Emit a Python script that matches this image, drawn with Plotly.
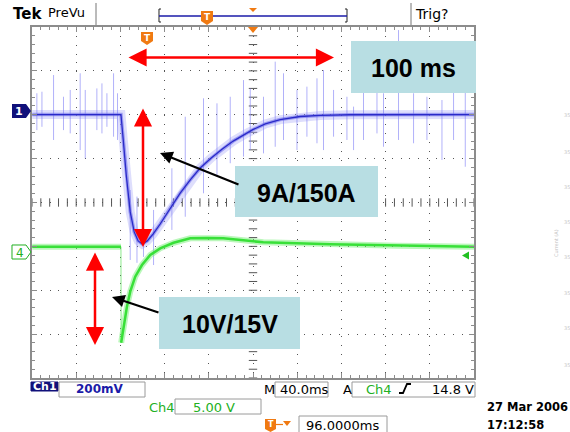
import plotly.graph_objects as go
import numpy as np

# ---------------- data ----------------
# Ch1: current probe, mV, time in ms relative to trigger
ch1_t = [-103.8, -23.5, -21.4, -18.7, -15.1, -11.5, -7.9, -4.3, 0.3, 5.7,
         12.0, 21.1, 30.1, 39.2, 48.2, 58.2, 68.2, 78.1, 89.0, 96.2,
         107.1, 120.6, 138.7, 156.8, 184.0, 296.2]
ch1_mv = [-16, -16, -132, -292, -460, -551, -592, -606, -592, -560,
          -515, -442, -374, -314, -260, -214, -173, -137, -105, -84,
          -59, -39, -25, -20, -17, -16]

# Ch1 noise spikes: time, upper end, lower end (mV)
spike_t = [-99.6, -95.0, -84.5, -75.5, -69.4, -60.4, -55.8, -45.3, -40.7, -36.2, -30.2, -26.6,
           -15.1, -9.0, -3.1, 6.0, 22.6, 34.7, 51.2, 63.4, 75.4, 87.4, 93.5, 105.5,
           116.1, 123.6, 135.8, 144.8, 153.9, 159.8, 168.9, 181.0, 187.0, 196.0,
           208.2, 214.1, 227.7, 241.3, 253.4, 267.0, 277.5, 288.1]
spike_hi = [81, 88, 164, 65, 96, 172, 96, 103, 126, 81, 172, 81,
            -360, -390, -530, -451, -261, -26, 58, 35, 65, 141, 103, 65,
            225, 172, 96, 111, 149, 187, 96, 65, 20, 149,
            141, 81, 369, 81, 65, 50, 141, 126]
spike_lo = [-87, -72, -132, -87, -102, -178, -216, -87, -102, -72, -117, -132,
            -679, -692, -665, -702, -542, -482, -375, -299, -238, -208, -178, -193,
            -163, -132, -178, -117, -147, -178, -117, -132, -178, -132,
            -102, -163, -132, -147, -132, -223, -132, -254]

# Ch4: voltage, V
ch4_t = [-103.8, -23.5, -23.3, -21.2, -18.1, -15.1, -10.6, -4.5, 3.0, 12.0,
         24.1, 39.2, 54.3, 69.1, 105.3, 165.9, 226.3, 296.2]
ch4_v = [15.75, 15.75, 4.81, 6.63, 8.91, 10.62, 12.33, 13.66, 14.80, 15.56,
         16.20, 16.70, 16.75, 16.70, 16.25, 16.03, 15.87, 15.75]

# scope settings
CH1_SCALE = 200.0   # mV/div
CH4_SCALE = 5.0     # V/div
TRIG_LEVEL = 14.8   # V
CH1_POS = 2.085     # div
TRIG_POS = -1.197   # div
T_PER_DIV = 40.0    # ms/div
T_CENTER = 96.0     # ms

y1 = [v / CH1_SCALE + CH1_POS for v in ch1_mv]
y4 = [(v - TRIG_LEVEL) / CH4_SCALE + TRIG_POS for v in ch4_v]

sx, sy = [], []
for t, hi, lo in zip(spike_t, spike_hi, spike_lo):
    sx += [t, t, None]
    sy += [hi / CH1_SCALE + CH1_POS, lo / CH1_SCALE + CH1_POS, None]

XMIN, XMAX = T_CENTER - 5 * T_PER_DIV, T_CENTER + 5 * T_PER_DIV

fig = go.Figure()

# grid decorations (centre-line ticks)
cx = np.arange(XMIN, XMAX + 0.1, T_PER_DIV / 5)
cy = np.arange(-4, 4.01, 0.2)
fig.add_trace(go.Scatter(x=cx, y=[0] * len(cx), mode="markers",
                         marker=dict(symbol="line-ns", size=6, line=dict(width=1, color="#555")),
                         hoverinfo="skip"))
fig.add_trace(go.Scatter(x=[T_CENTER] * len(cy), y=cy, mode="markers",
                         marker=dict(symbol="line-ew", size=6, line=dict(width=1, color="#555")),
                         hoverinfo="skip"))

# Ch1
fig.add_trace(go.Scatter(x=ch1_t, y=y1, mode="lines",
                         line=dict(color="rgba(160,160,245,0.35)", width=9), hoverinfo="skip"))
fig.add_trace(go.Scatter(x=sx, y=sy, mode="lines",
                         line=dict(color="rgba(125,125,245,0.6)", width=1), hoverinfo="skip"))
fig.add_trace(go.Scatter(x=ch1_t, y=y1, mode="lines",
                         line=dict(color="rgba(110,110,235,0.6)", width=3.5), hoverinfo="skip"))
fig.add_trace(go.Scatter(x=ch1_t, y=y1, mode="lines",
                         line=dict(color="#2a2ac8", width=1.3), hoverinfo="skip"))

# Ch4
fig.add_trace(go.Scatter(x=ch4_t[1:3], y=y4[1:3], mode="lines",
                         line=dict(color="rgba(90,225,90,0.7)", width=1), hoverinfo="skip"))
for a, b in ((0, 2), (2, len(ch4_t))):
    fig.add_trace(go.Scatter(x=ch4_t[a:b], y=y4[a:b], mode="lines",
                             line=dict(color="rgba(120,240,120,0.5)", width=6), hoverinfo="skip"))
    fig.add_trace(go.Scatter(x=ch4_t[a:b], y=y4[a:b], mode="lines",
                             line=dict(color="#38e038", width=2.5), hoverinfo="skip"))

# ---------------- pixel helpers for decorations ----------------
L, R, T, B = 32, 474, 27, 378
def PX(X):
    return (X - L) / (R - L)
def PY(Y):
    return (B - Y) / (B - T)
def path(pts, close=True):
    s = "M " + " L ".join(f"{PX(x):.5f},{PY(y):.5f}" for x, y in pts)
    return s + (" Z" if close else "")

shapes = []
ann = []
FONT = "DejaVu Sans"

def text(X, Y, s, size=13, color="black", anchor="left", bold=False, family=FONT, angle=0):
    ann.append(dict(x=PX(X), y=PY(Y), xref="paper", yref="paper", text=(f"<b>{s}</b>" if bold else s),
                    showarrow=False, xanchor=anchor, yanchor="middle", textangle=angle,
                    font=dict(family=family, size=size, color=color)))

def rect(x0, y0, x1, y1, fill="white", line="#9a9a9a", lw=1):
    shapes.append(dict(type="rect", xref="paper", yref="paper", x0=PX(x0), x1=PX(x1), y0=PY(y1), y1=PY(y0),
                       fillcolor=fill, line=dict(color=line, width=lw), layer="above"))

def poly(pts, fill, line=None, lw=1, close=True):
    shapes.append(dict(type="path", xref="paper", yref="paper", path=path(pts, close),
                       fillcolor=fill if close else None,
                       line=dict(color=line if line else fill, width=lw if line else 0 if close else lw),
                       layer="above"))

ORANGE = "#f07a12"
BLUE = "#1b1ba8"
GREEN = "#22b022"

# ---- top bar ----
text(11, 14, "Tek", 15, bold=True)
text(46, 13, "PreVu", 13)
poly([(96, 3), (96, 25)], None, "#777", 1, close=False)
poly([(411, 3), (411, 25)], None, "#777", 1, close=False)
text(413, 14, "Trig?", 14)
poly([(161, 9), (159, 9), (159, 22), (161, 22)], None, "#222", 1, close=False)
poly([(345, 9), (347, 9), (347, 22), (345, 22)], None, "#222", 1, close=False)
poly([(159, 16), (347, 16)], None, BLUE, 1.5, close=False)
poly([(201, 11), (213, 11), (213, 21), (207, 25), (201, 21)], ORANGE)
text(207, 17, "T", 9, "white", "center", bold=True)
poly([(249, 8), (257, 8), (253, 12)], ORANGE)

# ---- screen markers ----
poly([(248, 27), (258, 27), (253, 33)], ORANGE)
poly([(141, 32), (153, 32), (153, 41), (147, 45), (141, 41)], ORANGE)
text(147, 37.5, "T", 9, "white", "center", bold=True)
poly([(12, 104), (26, 104), (31, 111), (26, 118), (12, 118)], "#10107a")
text(19, 111.5, "1", 11, "white", "center", bold=True)
poly([(12, 245), (26, 245), (31, 252), (26, 259), (12, 259)], "white", GREEN, 1)
text(19.5, 252.5, "4", 12, GREEN, "center")
poly([(462, 255.5), (469, 251.5), (469, 259.5)], "#22c022")

# ---- bottom readouts ----
rect(31, 382, 58, 391, fill="#10107a", line="#10107a")
text(44.5, 387, "Ch1", 11, "white", "center", bold=True)
rect(59, 382, 145, 397)
text(74, 389, "200mV", 12, BLUE, bold=True)
text(262, 389, "M", 13)
rect(275, 382, 328, 397)
text(278, 389, "40.0ms", 13)
text(341, 389, "A", 13)
rect(352, 382, 475, 397)
text(364, 389, "Ch4", 13, GREEN)
poly([(399, 393), (403, 393), (407, 384), (411, 384)], None, "black", 1.8, close=False)
text(430, 389, "14.8 V", 13)
text(147, 407, "Ch4", 13, GREEN)
rect(175, 399, 261, 414)
text(191, 407, "5.00 V", 13, GREEN)
poly([(265, 419), (276, 419), (276, 429), (270.5, 432), (265, 429)], ORANGE)
text(270.5, 424.5, "T", 8, "white", "center", bold=True)
poly([(276, 424.5), (283, 424.5)], None, ORANGE, 1.2, close=False)
poly([(283, 421), (291, 421), (287, 426)], ORANGE)
rect(299, 416, 387, 433)
text(304, 425, "96.0000ms", 13)
text(485, 407, "27 Mar 2006", 11.5, bold=True)
text(485, 425, "17:12:58", 11.5, bold=True)

# faint remnants on right edge
for yy in [115, 152, 187, 222, 257, 293, 328, 365]:
    text(562, yy, "35", 5, "#c8c8c8")
text(556, 243, "Current (A)", 5, "#c0c0c0", "center", angle=-90)

# ---- annotation boxes ----
BOX = "#b8dee3"
rect(351, 41, 476, 93, fill=BOX, line=BOX, lw=0)
text(413, 68, "100 ms", 25, "black", "center", bold=True, family="Liberation Sans")
rect(235, 166, 378, 217, fill=BOX, line=BOX, lw=0)
text(306.5, 192.5, "9A/150A", 25, "black", "center", bold=True, family="Liberation Sans")
rect(159, 297, 300, 349, fill=BOX, line=BOX, lw=0)
text(229.5, 324, "10V/15V", 25, "black", "center", bold=True, family="Liberation Sans")

# ---- arrows ----
def arrow(tipX, tipY, tailX, tailY, color, width, size, both):
    ann.append(dict(x=PX(tipX), y=PY(tipY), xref="paper", yref="paper", text="",
                    showarrow=True, axref="pixel", ayref="pixel", ax=tailX - tipX, ay=tailY - tipY,
                    arrowhead=2, startarrowhead=2, arrowside="end+start" if both else "end",
                    arrowsize=size, startarrowsize=size, arrowwidth=width, arrowcolor=color,
                    standoff=0, startstandoff=0))

RED = "#ff0000"
arrow(334, 57.5, 127, 57.5, RED, 2.5, 1.45, True)
arrow(143, 247, 143, 107, RED, 2.5, 1.45, True)
arrow(95, 345, 95, 251, RED, 2.5, 1.45, True)
arrow(160, 153, 240, 185, "black", 2.2, 1.15, False)
arrow(112, 297, 160, 313, "black", 2.2, 1.15, False)

fig.update_layout(
    width=570, height=432,
    margin=dict(l=L, r=570 - R, t=T, b=432 - B, pad=0),
    paper_bgcolor="white", plot_bgcolor="white",
    showlegend=False, hovermode=False,
    shapes=shapes, annotations=ann,
    xaxis=dict(range=[XMIN, XMAX], tick0=XMIN, dtick=T_PER_DIV, showgrid=True,
               gridcolor="#555", gridwidth=1, griddash="1px,7.84px", zeroline=False,
               showline=True, linecolor="#8c8c8c", linewidth=2, mirror="ticks",
               ticks="inside", ticklen=5, tickcolor="#8c8c8c", tickwidth=1, showticklabels=False,
               minor=dict(tick0=XMIN, dtick=T_PER_DIV / 5, ticks="inside", ticklen=3,
                          tickcolor="#8c8c8c", showgrid=False)),
    yaxis=dict(range=[-4, 4], tick0=-4, dtick=1, showgrid=True,
               gridcolor="#555", gridwidth=1, griddash="1px,7.775px", zeroline=False,
               showline=True, linecolor="#8c8c8c", linewidth=2, mirror="ticks",
               ticks="inside", ticklen=5, tickcolor="#8c8c8c", tickwidth=1, showticklabels=False,
               minor=dict(tick0=-4, dtick=0.2, ticks="inside", ticklen=3,
                          tickcolor="#8c8c8c", showgrid=False)),
)

fig.write_html("out.html", config={"displayModeBar": False},
               post_script="document.body.style.margin='0';document.body.style.overflow='hidden';")
